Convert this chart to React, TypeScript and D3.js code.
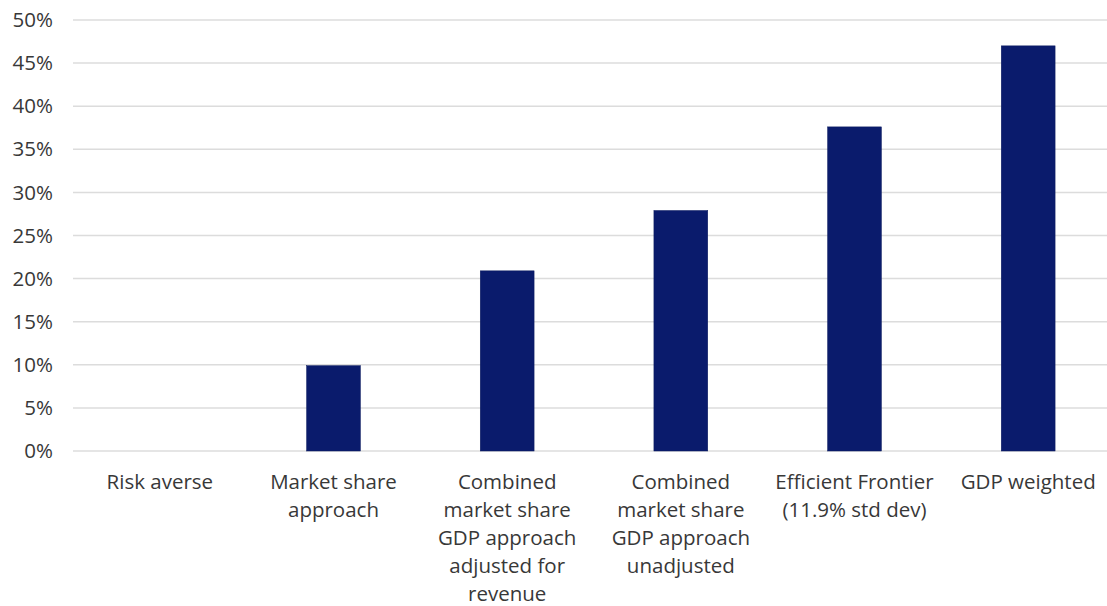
import React from "react";
import * as d3 from "d3";

const categories: string[][] = [
  ["Risk averse"],
  ["Market share", "approach"],
  ["Combined", "market share", "GDP approach", "adjusted for", "revenue"],
  ["Combined", "market share", "GDP approach", "unadjusted"],
  ["Efficient Frontier", "(11.9% std dev)"],
  ["GDP weighted"],
];
const values: number[] = [0, 0.099, 0.209, 0.279, 0.376, 0.47];
const yTicks: number[] = [0, 0.05, 0.1, 0.15, 0.2, 0.25, 0.3, 0.35, 0.4, 0.45, 0.5];

const W = 1107;
const H = 606;
const left = 73;
const right = 1115;
const top = 20;
const bottom = 451;

export default function App() {
  const keys = categories.map((c) => c.join(" "));
  const x = d3.scaleBand<string>().domain(keys).range([left, right]).paddingInner(0.69).paddingOuter(0.345);
  const y = d3.scaleLinear().domain([0, 0.5]).range([bottom, top]);
  const fmt = d3.format(".0%");
  const font = "'Open Sans', sans-serif";
  return (
    <svg width={W} height={H} style={{ position: "absolute", left: 0, top: 0, background: "#fff" }}>
      {yTicks.map((t) => (
        <g key={t}>
          <line x1={left} x2={W} y1={y(t)} y2={y(t)} stroke="#dcdcdc" strokeWidth={1.5} />
          <text x={53} y={y(t)} dy="0.35em" textAnchor="end" fontFamily={font} fontSize={20.5} fill="#383838">
            {fmt(t)}
          </text>
        </g>
      ))}
      {keys.map((k, i) => (
        <rect
          key={k}
          x={x(k)}
          width={x.bandwidth()}
          y={y(values[i])}
          height={bottom - y(values[i])}
          fill="#0a1b6c"
          stroke="#0a1a5e"
          strokeWidth={0.5}
        />
      ))}
      {categories.map((lines, i) => (
        <text
          key={i}
          x={(x(keys[i]) as number) + x.bandwidth() / 2}
          y={482}
          textAnchor="middle"
          fontFamily={font}
          fontSize={20.5}
          fill="#383838"
        >
          {lines.map((l, j) => (
            <tspan key={j} x={(x(keys[i]) as number) + x.bandwidth() / 2} y={482 + j * 28} dy="0.35em">
              {l}
            </tspan>
          ))}
        </text>
      ))}
    </svg>
  );
}
